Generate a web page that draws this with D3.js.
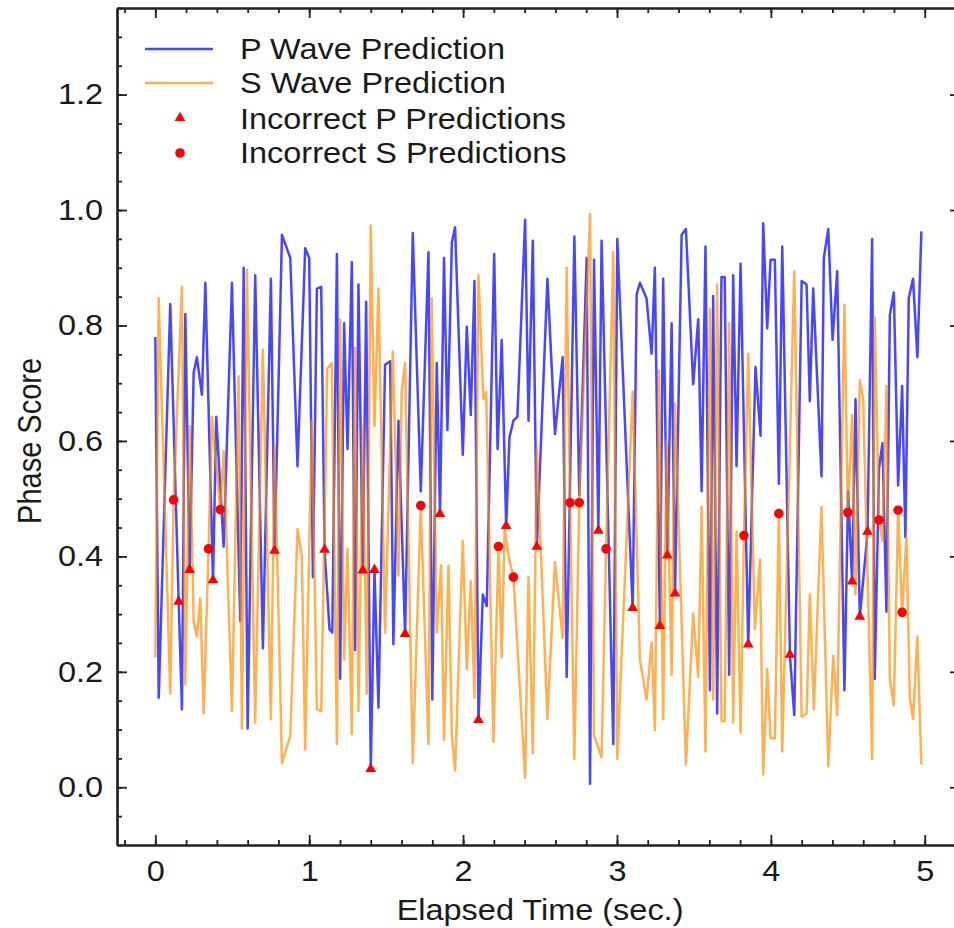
<!DOCTYPE html>
<html>
<head>
<meta charset="utf-8">
<script src="https://cdnjs.cloudflare.com/ajax/libs/d3/7.8.5/d3.min.js"></script>
<style>
	body { margin: 0; background: #fff; }
	svg text { font-family: "Liberation Sans", Arial, sans-serif; fill: #1a1a1a; }
</style>
</head>
<body>
<svg id="chart" width="954" height="928"></svg>
<script>
// P wave score at each turning point
var pTime = [0.000,0.022,0.097,0.152,0.173,0.195,0.223,0.249,0.270,0.303,0.325,0.375,0.396,0.444,0.498,0.552,0.574,0.600,0.649,0.699,
	0.751,0.775,0.823,0.877,0.924,0.974,1.000,1.024,1.050,1.078,1.100,1.132,1.150,1.180,1.201,1.227,1.249,1.277,1.298,1.320,
	1.348,1.370,1.400,1.424,1.450,1.493,1.526,1.547,1.580,1.623,1.673,1.725,1.775,1.800,1.829,1.850,1.876,1.898,1.927,1.948,
	1.998,2.024,2.050,2.074,2.100,2.128,2.154,2.202,2.224,2.251,2.280,2.301,2.327,2.353,2.403,2.425,2.453,2.479,2.548,2.597,
	2.647,2.673,2.723,2.755,2.803,2.825,2.851,2.879,2.900,2.976,3.002,3.102,3.128,3.149,3.192,3.225,3.246,3.279,3.300,3.327,
	3.355,3.377,3.420,3.448,3.495,3.528,3.550,3.575,3.604,3.625,3.651,3.679,3.700,3.729,3.755,3.777,3.803,3.853,3.900,3.933,
	3.950,3.976,3.998,4.026,4.052,4.074,4.124,4.152,4.200,4.232,4.253,4.275,4.329,4.344,4.373,4.401,4.431,4.478,4.502,4.528,
	4.550,4.578,4.628,4.658,4.675,4.703,4.725,4.751,4.773,4.799,4.827,4.853,4.874,4.896,4.924,4.952,4.978];
var pScore = [0.78,0.155,0.837,0.32,0.135,0.82,0.375,0.718,0.745,0.68,0.874,0.357,0.642,0.417,0.874,0.288,0.90,0.102,0.887,0.241,
	0.881,0.408,0.957,0.917,0.556,0.934,0.917,0.364,0.864,0.867,0.41,0.274,0.268,0.924,0.188,0.804,0.586,0.91,0.238,0.871,
	0.374,0.841,0.03,0.375,0.138,0.732,0.738,0.248,0.635,0.264,0.96,0.513,0.927,0.152,0.735,0.472,0.917,0.619,0.944,0.97,
	0.576,0.798,0.645,0.877,0.115,0.334,0.314,0.924,0.586,0.775,0.451,0.606,0.635,0.642,0.983,0.635,0.947,0.415,0.881,0.612,
	0.745,0.191,0.954,0.506,0.917,0.006,0.914,0.443,0.947,0.075,0.95,0.309,0.854,0.874,0.847,0.751,0.90,0.278,0.881,0.40,
	0.804,0.334,0.957,0.967,0.698,0.811,0.513,0.937,0.168,0.851,0.128,0.884,0.884,0.195,0.887,0.556,0.907,0.246,0.728,0.609,
	0.977,0.795,0.914,0.914,0.526,0.937,0.228,0.125,0.877,0.871,0.669,0.864,0.539,0.917,0.967,0.775,0.894,0.168,0.513,0.355,
	0.672,0.294,0.441,0.95,0.188,0.553,0.596,0.304,0.818,0.857,0.523,0.695,0.433,0.847,0.881,0.745,0.963];

// S wave score
var sTime = [0.000,0.022,0.097,0.119,0.173,0.195,0.223,0.249,0.270,0.292,0.314,0.346,0.368,0.422,0.444,0.498,0.541,0.563,0.595,0.649,
	0.699,0.751,0.775,0.823,0.877,0.924,0.952,0.974,1.017,1.050,1.078,1.117,1.147,1.180,1.201,1.227,1.249,1.277,1.298,1.320,
	1.348,1.374,1.400,1.424,1.450,1.493,1.543,1.580,1.601,1.623,1.673,1.725,1.775,1.796,1.829,1.857,1.876,1.905,1.927,1.948,
	1.998,2.024,2.050,2.074,2.100,2.132,2.150,2.197,2.230,2.251,2.270,2.300,2.327,2.403,2.425,2.453,2.479,2.548,2.597,2.647,
	2.673,2.695,2.723,2.755,2.825,2.851,2.900,2.929,2.976,3.002,3.102,3.149,3.192,3.225,3.246,3.272,3.300,3.322,3.355,3.377,
	3.448,3.495,3.528,3.550,3.575,3.604,3.625,3.651,3.679,3.700,3.729,3.755,3.777,3.803,3.825,3.853,3.896,3.929,3.950,3.976,
	3.998,4.026,4.052,4.074,4.152,4.200,4.232,4.253,4.279,4.329,4.373,4.405,4.431,4.478,4.500,4.528,4.550,4.578,4.600,4.658,
	4.675,4.703,4.725,4.751,4.773,4.799,4.827,4.853,4.881,4.903,4.924,4.952,4.978];
var sScore = [0.225,0.847,0.162,0.498,0.867,0.178,0.626,0.288,0.261,0.327,0.128,0.413,0.642,0.481,0.582,0.132,0.712,0.102,0.897,0.112,
	0.758,0.118,0.592,0.042,0.089,0.447,0.40,0.066,0.635,0.135,0.132,0.725,0.735,0.075,0.81,0.221,0.413,0.092,0.761,0.132,
	0.626,0.162,0.973,0.626,0.864,0.268,0.755,0.367,0.685,0.735,0.042,0.488,0.075,0.847,0.268,0.384,0.082,0.384,0.089,0.029,
	0.427,0.205,0.357,0.155,0.887,0.672,0.685,0.079,0.417,0.225,0.447,0.394,0.364,0.016,0.364,0.059,0.586,0.118,0.39,0.258,
	0.90,0.493,0.049,0.493,0.993,0.089,0.052,0.413,0.927,0.049,0.685,0.221,0.152,0.251,0.099,0.722,0.118,0.599,0.195,0.665,
	0.039,0.301,0.191,0.486,0.062,0.828,0.152,0.871,0.115,0.115,0.804,0.112,0.443,0.095,0.436,0.751,0.274,0.394,0.022,0.205,
	0.085,0.085,0.474,0.062,0.894,0.122,0.128,0.334,0.135,0.486,0.036,0.228,0.125,0.836,0.476,0.645,0.334,0.705,0.672,0.049,
	0.814,0.463,0.427,0.695,0.188,0.142,0.48,0.303,0.433,0.155,0.118,0.261,0.039];

// wrong picks
var pWrongTime = [0.152,0.223,0.375,0.775,1.100,1.348,1.400,1.424,1.623,1.850,2.100,2.280,2.479,2.879,3.102,3.279,3.327,3.377,3.853,4.124,4.528,4.578,4.628];
var pWrongScore = [0.32,0.375,0.357,0.408,0.41,0.374,0.03,0.375,0.264,0.472,0.115,0.451,0.415,0.443,0.309,0.278,0.40,0.334,0.246,0.228,0.355,0.294,0.441];
var sWrongTime = [0.119,0.346,0.422,1.725,2.230,2.327,2.695,2.755,2.929,3.825,4.052,4.500,4.703,4.827,4.853];
var sWrongScore = [0.498,0.413,0.481,0.488,0.417,0.364,0.493,0.493,0.413,0.436,0.474,0.476,0.463,0.48,0.303];

var xTicks = [0, 1, 2, 3, 4, 5];
var yTicks = [0.0, 0.2, 0.4, 0.6, 0.8, 1.0, 1.2];
var legendLabels = ["P Wave Prediction", "S Wave Prediction", "Incorrect P Predictions", "Incorrect S Predictions"];

var blue = "#0000ff";
var orange = "#ff8c00";
var red = "#ff0000";
var lineWidth = 2.5;
var fontSize = 29;
var stretch = "scale(1.12,1)"; // the original picture was widened a bit

var svg = d3.select("#chart");
var plotLeft = 117, plotRight = 960, plotTop = 8, plotBottom = 845;

var x = d3.scaleLinear().domain([-0.249, 5.229]).range([plotLeft, plotRight]);
var y = d3.scaleLinear().domain([-0.1, 1.35]).range([plotBottom, plotTop]);

svg.append("clipPath").attr("id", "plotClip")
	.append("rect")
	.attr("x", plotLeft).attr("y", plotTop)
	.attr("width", plotRight - plotLeft).attr("height", plotBottom - plotTop);

var plot = svg.append("g").attr("clip-path", "url(#plotClip)");

function zip(a, b) {
	return a.map(function(d, i) { return [d, b[i]]; });
}

var line = d3.line()
	.x(function(d) { return x(d[0]); })
	.y(function(d) { return y(d[1]); });

plot.append("path")
	.datum(zip(pTime, pScore))
	.attr("d", line)
	.attr("fill", "none")
	.attr("stroke", blue)
	.attr("stroke-opacity", 0.72)
	.attr("stroke-width", lineWidth)
	.attr("stroke-linejoin", "round");

plot.append("path")
	.datum(zip(sTime, sScore))
	.attr("d", line)
	.attr("fill", "none")
	.attr("stroke", orange)
	.attr("stroke-opacity", 0.68)
	.attr("stroke-width", lineWidth)
	.attr("stroke-linejoin", "round");

var tri = d3.symbol().type(d3.symbolTriangle).size(50);

plot.selectAll("path.ptri")
	.data(zip(pWrongTime, pWrongScore))
	.enter()
	.append("path")
	.attr("class", "ptri")
	.attr("d", tri)
	.attr("transform", function(d) { return "translate(" + x(d[0]) + "," + (y(d[1]) - 1) + ")"; })
	.attr("fill", red);

plot.selectAll("circle.sdot")
	.data(zip(sWrongTime, sWrongScore))
	.enter()
	.append("circle")
	.attr("class", "sdot")
	.attr("cx", function(d) { return x(d[0]); })
	.attr("cy", function(d) { return y(d[1]); })
	.attr("r", 4.8)
	.attr("fill", red);

// axes, ticks pointing inward on all four sides
function styleAxis(g) {
	g.attr("font-family", null).attr("font-size", fontSize);
	g.select(".domain").attr("stroke", "#222").attr("stroke-width", 2.2);
	g.selectAll(".tick line").attr("stroke", "#222").attr("stroke-width", 1.8);
	g.selectAll("text").attr("fill", "#1a1a1a");
}

var xMinor = d3.range(-1, 27).map(function(k) { return k * 0.2; });
var yMinor = d3.range(-2, 28).map(function(k) { return k * 0.05; });

svg.append("g").attr("transform", "translate(0," + plotBottom + ")")
	.call(d3.axisBottom(x).tickValues(xMinor).tickSize(-5).tickSizeOuter(0).tickFormat(""))
	.call(styleAxis);
svg.append("g").attr("transform", "translate(0," + plotTop + ")")
	.call(d3.axisTop(x).tickValues(xMinor).tickSize(-5).tickSizeOuter(0).tickFormat(""))
	.call(styleAxis);
svg.append("g").attr("transform", "translate(" + plotLeft + ",0)")
	.call(d3.axisLeft(y).tickValues(yMinor).tickSize(-5).tickSizeOuter(0).tickFormat(""))
	.call(styleAxis);
svg.append("g").attr("transform", "translate(" + plotRight + ",0)")
	.call(d3.axisRight(y).tickValues(yMinor).tickSize(-5).tickSizeOuter(0).tickFormat(""))
	.call(styleAxis);

var xAxis = svg.append("g").attr("transform", "translate(0," + plotBottom + ")")
	.call(d3.axisBottom(x).tickValues(xTicks).tickSize(-10).tickSizeOuter(0).tickPadding(15).tickFormat(d3.format("d")))
	.call(styleAxis);
xAxis.selectAll("text").attr("transform", stretch);

var yAxis = svg.append("g").attr("transform", "translate(" + plotLeft + ",0)")
	.call(d3.axisLeft(y).tickValues(yTicks).tickSize(-10).tickSizeOuter(0).tickPadding(12.5).tickFormat(d3.format(".1f")))
	.call(styleAxis);
yAxis.selectAll("text").attr("transform", stretch);

svg.append("g").attr("transform", "translate(0," + plotTop + ")")
	.call(d3.axisTop(x).tickValues(xTicks).tickSize(-10).tickSizeOuter(0).tickFormat(""))
	.call(styleAxis);
svg.append("g").attr("transform", "translate(" + plotRight + ",0)")
	.call(d3.axisRight(y).tickValues(yTicks).tickSize(-10).tickSizeOuter(0).tickFormat(""))
	.call(styleAxis);

// axis titles
svg.append("text")
	.attr("transform", "translate(" + ((x(0) + x(5)) / 2) + ",920) " + stretch)
	.attr("text-anchor", "middle")
	.attr("font-size", fontSize)
	.text("Elapsed Time (sec.)");

svg.append("text")
	.attr("transform", "translate(41," + y(0.6) + ") " + stretch + " rotate(-90)")
	.attr("text-anchor", "middle")
	.attr("font-size", fontSize)
	.text("Phase Score");

// legend
var legendY = [49, 83, 119, 153];
var legend = svg.append("g");

legend.append("line")
	.attr("x1", 145).attr("x2", 213).attr("y1", legendY[0]).attr("y2", legendY[0])
	.attr("stroke", blue).attr("stroke-opacity", 0.72).attr("stroke-width", lineWidth);
legend.append("line")
	.attr("x1", 145).attr("x2", 213).attr("y1", legendY[1]).attr("y2", legendY[1])
	.attr("stroke", orange).attr("stroke-opacity", 0.68).attr("stroke-width", lineWidth);
legend.append("path")
	.attr("d", tri)
	.attr("transform", "translate(180," + (legendY[2] - 1) + ")")
	.attr("fill", red);
legend.append("circle")
	.attr("cx", 180).attr("cy", legendY[3]).attr("r", 4.8)
	.attr("fill", red);

legend.selectAll("text")
	.data(legendLabels)
	.enter()
	.append("text")
	.attr("transform", function(d, i) { return "translate(240," + (legendY[i] + 10) + ") " + stretch; })
	.attr("font-size", fontSize)
	.text(function(d) { return d; });
</script>
</body>
</html>
